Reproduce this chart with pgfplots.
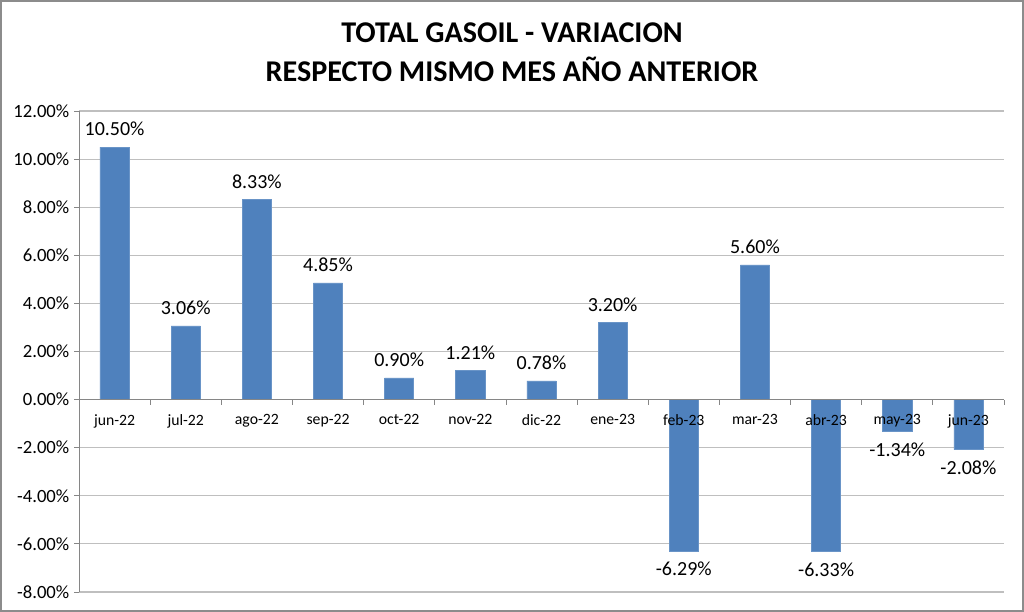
\documentclass[border=0pt]{standalone}
\usepackage{pgfplots}
\pgfplotsset{compat=1.18}
\usepackage{fontspec}
\setmainfont{Carlito}
\definecolor{barblue}{HTML}{4F81BD}
\definecolor{gridgray}{HTML}{BFBFBF}
\definecolor{axisgray}{HTML}{868686}
\definecolor{framegray}{HTML}{8C8C8C}
\begin{document}
\begin{tikzpicture}
\begin{axis}[
  set layers=standard,
  width=693.75pt, height=360.75pt, scale only axis,
  xmin=-0.5, xmax=12.5, ymin=-8, ymax=12,
  axis x line=middle, axis y line=left,
  hide obscured x ticks=false,
  axis line style={-, draw=axisgray, line width=0.6pt},
  tick align=outside,
  major tick length=3.75pt,
  tick style={draw=axisgray, line width=0.6pt},
  xtick={-0.5,0.5,...,12.5},
  x tick label as interval=true,
  xticklabels={jun-22,jul-22,ago-22,sep-22,oct-22,nov-22,dic-22,ene-23,feb-23,mar-23,abr-23,may-23,jun-23},
  xticklabel style={font=\fontsize{11.8pt}{13pt}\selectfont, yshift=-4pt},
  ytick={-8,-6,...,12},
  yticklabel={\pgfmathprintnumber[fixed,fixed zerofill,precision=2]{\tick}\%},
  yticklabel style={font=\fontsize{14pt}{16pt}\selectfont},
  /pgf/number format/assume math mode=true,
  ymajorgrids=true,
  major grid style={draw=gridgray, line width=0.8pt},
  ybar, bar width=0.41, bar shift=0pt,
  nodes near coords={\pgfmathprintnumber[fixed,fixed zerofill,precision=2]{\pgfplotspointmeta}\%},
  nodes near coords align={vertical},
  nodes near coords style={font=\fontsize{15pt}{17pt}\selectfont, inner sep=8pt, text=black},
  point meta=y,
  clip=false,
]
\addplot[on layer=axis grid, fill=barblue, draw=barblue!85!white, line width=0.5pt] coordinates {
  (0,10.50) (1,3.06) (2,8.33) (3,4.85) (4,0.90) (5,1.21) (6,0.78)
  (7,3.20) (8,-6.29) (9,5.60) (10,-6.33) (11,-1.34) (12,-2.08)
};
\end{axis}
\path[use as bounding box] ([shift={(-59.25pt,-15pt)}]current axis.south west) rectangle ([shift={(15pt,83.25pt)}]current axis.north east);
\draw[framegray, line width=1.5pt] ([shift={(-58.5pt,-14.25pt)}]current axis.south west) rectangle ([shift={(14.25pt,82.5pt)}]current axis.north east);
\node[anchor=base, font=\fontsize{22.6pt}{26pt}\selectfont\bfseries] at ([shift={(-22.125pt,51pt)}]current axis.north) {TOTAL GASOIL - VARIACION};
\node[anchor=base, font=\fontsize{22.6pt}{26pt}\selectfont\bfseries] at ([shift={(-22.125pt,21.75pt)}]current axis.north) {RESPECTO MISMO MES AÑO ANTERIOR};
\end{tikzpicture}
\end{document}
